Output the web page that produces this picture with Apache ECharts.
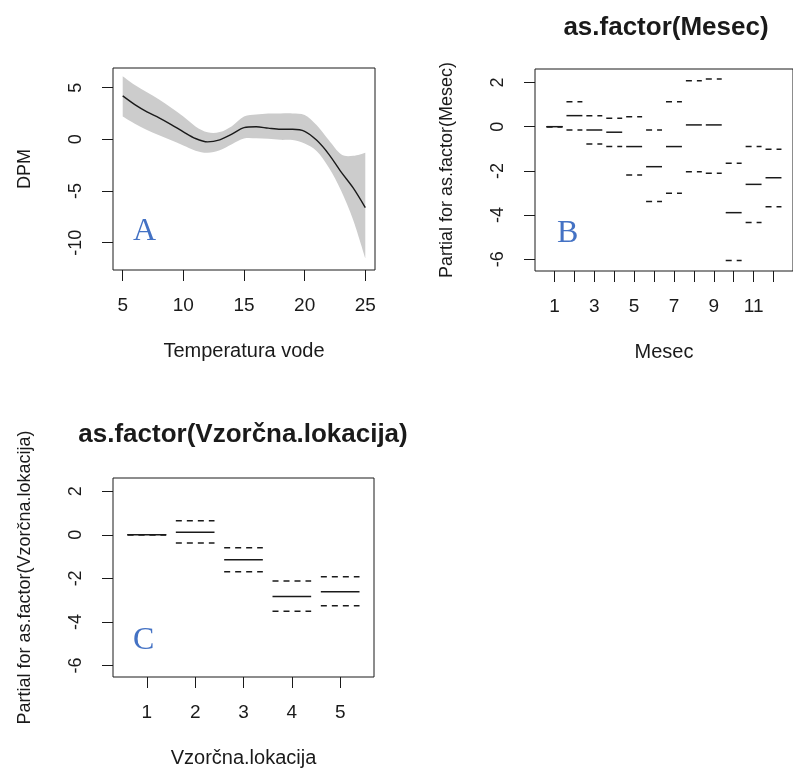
<!DOCTYPE html>
<html>
<head>
<meta charset="utf-8">
<script src="https://cdn.jsdelivr.net/npm/echarts@6/dist/echarts.min.js"></script>
<style>
  html, body { margin: 0; padding: 0; background: #ffffff; }
  #chart { width: 793px; height: 769px; }
</style>
</head>
<body>
<div id="chart"></div>
<script>
// Smooth term for water temperature: fitted partial effect and its confidence band
const tempX     = [5, 6, 7, 8, 9, 10, 11, 12, 13, 14, 15, 16, 17, 18, 19, 20, 21, 22, 23, 24, 25];
const tempFit   = [4.2, 3.36, 2.66, 2.08, 1.43, 0.73, 0.08, -0.25, -0.05, 0.5, 1.13, 1.22, 1.08, 0.97, 0.97, 0.78, -0.1, -1.45, -3.15, -4.7, -6.6];
const tempUpper = [6.1, 5.25, 4.56, 3.86, 3.05, 2.2, 1.25, 0.68, 0.7, 1.27, 2.2, 2.4, 2.5, 2.5, 2.5, 2.35, 1.35, -0.1, -1.45, -1.6, -1.3];
const tempLower = [2.2, 1.5, 0.9, 0.4, -0.1, -0.6, -1.1, -1.3, -1.05, -0.47, 0.08, 0.1, 0.05, -0.05, -0.07, -0.4, -1.15, -2.75, -4.95, -7.8, -11.5];
const tempTicks = [5, 10, 15, 20, 25];
const dpmTicks  = [-10, -5, 0, 5];

// Month factor: partial effects with upper / lower standard-error limits
const monthLevels = [1, 2, 3, 4, 5, 6, 7, 8, 9, 10, 11, 12];
const monthFit    = [0, 0.50, -0.15, -0.25, -0.90, -1.81, -0.90, 0.08, 0.08, -3.89, -2.61, -2.31];
const monthUpper  = [0, 1.13, 0.50, 0.38, 0.45, -0.15, 1.13, 2.08, 2.16, -1.66, -0.90, -1.02];
const monthLower  = [0, -0.15, -0.78, -0.90, -2.19, -3.39, -3.01, -2.04, -2.11, -6.06, -4.34, -3.62];
const monthLabels = [1, 3, 5, 7, 9, 11];

// Sampling-location factor
const siteLevels = [1, 2, 3, 4, 5];
const siteFit    = [0, 0.12, -1.14, -2.83, -2.61];
const siteUpper  = [0, 0.65, -0.59, -2.12, -1.92];
const siteLower  = [0, -0.38, -1.70, -3.51, -3.26];

const partialTicks = [-6, -4, -2, 0, 2];

const ink = '#1a1a1a';
const sans = '"Liberation Sans", Arial, Helvetica, sans-serif';
const serif = '"Liberation Serif", "Times New Roman", serif';
const letterColor = '#4472c4';
const bandColor = '#cccccc';

function pairs(xs, ys) { return xs.map((x, i) => [x, ys[i]]); }

function xAxisFor(grid, min, max, ticks, labels, name) {
  return {
    gridIndex: grid, type: 'value', min: min, max: max,
    name: name, nameLocation: 'middle', nameGap: 71,
    nameTextStyle: { fontFamily: sans, fontSize: 20, color: ink },
    axisLine: { show: false, onZero: false },
    axisTick: { show: true, inside: false, length: 11, customValues: ticks, lineStyle: { color: ink, width: 1 } },
    axisLabel: { show: true, customValues: labels, margin: 26, fontFamily: sans, fontSize: 19, color: ink,
                 formatter: v => String(v) },
    splitLine: { show: false }
  };
}

function yAxisFor(grid, min, max, ticks, name) {
  return {
    gridIndex: grid, type: 'value', min: min, max: max,
    name: name, nameLocation: 'middle', nameGap: 79, nameRotate: 90,
    nameTextStyle: { fontFamily: sans, fontSize: 18, color: ink },
    axisLine: { show: false, onZero: false },
    axisTick: { show: true, inside: false, length: 11, customValues: ticks, lineStyle: { color: ink, width: 1 } },
    axisLabel: { show: true, customValues: ticks, rotate: 90, margin: 28, fontFamily: sans, fontSize: 18, color: ink,
                 formatter: v => String(v) },
    splitLine: { show: false }
  };
}

// Catmull-Rom curve through pixel points, as SVG path commands
function curveCommands(pts, start) {
  const f = n => n.toFixed(2);
  let d = start + f(pts[0][0]) + ' ' + f(pts[0][1]);
  for (let i = 0; i < pts.length - 1; i++) {
    const p0 = pts[Math.max(i - 1, 0)], p1 = pts[i], p2 = pts[i + 1], p3 = pts[Math.min(i + 2, pts.length - 1)];
    const c1x = p1[0] + (p2[0] - p0[0]) / 6, c1y = p1[1] + (p2[1] - p0[1]) / 6;
    const c2x = p2[0] - (p3[0] - p1[0]) / 6, c2y = p2[1] - (p3[1] - p1[1]) / 6;
    d += ' C' + f(c1x) + ' ' + f(c1y) + ' ' + f(c2x) + ' ' + f(c2y) + ' ' + f(p2[0]) + ' ' + f(p2[1]);
  }
  return d;
}

// Shaded confidence band between the upper and lower limits
function renderBand(params, api) {
  if (params.dataIndex !== 0) return null;
  const top = tempX.map((x, i) => api.coord([x, tempUpper[i]]));
  const bottom = tempX.map((x, i) => api.coord([x, tempLower[i]])).reverse();
  const d = curveCommands(top, 'M') + ' ' + curveCommands(bottom, 'L') + ' Z';
  return { type: 'path', shape: { pathData: d }, style: { fill: bandColor, stroke: null } };
}

// Horizontal level segment spanning level +/- 0.4 on the x scale
function segment(dash) {
  return function (params, api) {
    const lv = api.value(0), v = api.value(1);
    const a = api.coord([lv - 0.4, v]);
    const b = api.coord([lv + 0.4, v]);
    return {
      type: 'line',
      shape: { x1: a[0], y1: a[1], x2: b[0], y2: b[1] },
      style: { stroke: ink, lineWidth: 1.5, lineDash: dash || null }
    };
  };
}

function levelSeries(axisIdx, levels, values, dash, z) {
  return {
    type: 'custom', xAxisIndex: axisIdx, yAxisIndex: axisIdx,
    renderItem: segment(dash), data: pairs(levels, values),
    encode: { x: 0, y: 1 }, z: z, silent: true, clip: false
  };
}

const option = {
  animation: false,
  backgroundColor: '#ffffff',
  title: [
    { text: 'as.factor(Mesec)', left: 666, top: 15, textAlign: 'center', padding: 0,
      textStyle: { fontFamily: sans, fontSize: 26, fontWeight: 'bold', color: ink } },
    { text: 'as.factor(Vzorčna.lokacija)', left: 243, top: 422, textAlign: 'center', padding: 0,
      textStyle: { fontFamily: sans, fontSize: 26, fontWeight: 'bold', color: ink } }
  ],
  grid: [
    { left: 113, top: 68, width: 262, height: 202, show: true, borderColor: ink, borderWidth: 1, backgroundColor: 'transparent' },
    { left: 535, top: 69, width: 262, height: 202, show: true, borderColor: ink, borderWidth: 1, backgroundColor: 'transparent' },
    { left: 113, top: 478, width: 261, height: 201, show: true, borderColor: ink, borderWidth: 1, backgroundColor: 'transparent' }
  ],
  xAxis: [
    xAxisFor(0, 4.2, 25.8, tempTicks, tempTicks, 'Temperatura vode'),
    xAxisFor(1, 0.02, 12.98, monthLevels, monthLabels, 'Mesec'),
    xAxisFor(2, 0.3, 5.7, siteLevels, siteLevels, 'Vzorčna.lokacija')
  ],
  yAxis: [
    yAxisFor(0, -12.64, 6.9, dpmTicks, 'DPM'),
    yAxisFor(1, -6.53, 2.61, partialTicks, 'Partial for as.factor(Mesec)'),
    yAxisFor(2, -6.53, 2.61, partialTicks, 'Partial for as.factor(Vzorčna.lokacija)')
  ],
  series: [
    {
      type: 'custom', xAxisIndex: 0, yAxisIndex: 0,
      data: pairs(tempX, tempUpper), encode: { x: 0, y: 1 },
      renderItem: renderBand, silent: true, z: 1, clip: false
    },
    {
      type: 'line', xAxisIndex: 0, yAxisIndex: 0,
      data: pairs(tempX, tempFit), symbol: 'none', smooth: 0.3,
      lineStyle: { color: ink, width: 1.4 }, silent: true, z: 3
    },
    levelSeries(1, monthLevels, monthUpper, [6, 5], 2),
    levelSeries(1, monthLevels, monthLower, [6, 5], 2),
    levelSeries(1, monthLevels, monthFit, null, 3),
    levelSeries(2, siteLevels, siteUpper, [6, 5], 2),
    levelSeries(2, siteLevels, siteLower, [6, 5], 2),
    levelSeries(2, siteLevels, siteFit, null, 3)
  ],
  graphic: [
    { type: 'text', left: 133, top: 216, z: 10, style: { text: 'A', fill: letterColor, font: '32px ' + serif } },
    { type: 'text', left: 557, top: 218, z: 10, style: { text: 'B', fill: letterColor, font: '32px ' + serif } },
    { type: 'text', left: 133, top: 625, z: 10, style: { text: 'C', fill: letterColor, font: '32px ' + serif } }
  ]
};

const chart = echarts.init(document.getElementById('chart'), null, { renderer: 'canvas' });
chart.setOption(option);
</script>
</body>
</html>
